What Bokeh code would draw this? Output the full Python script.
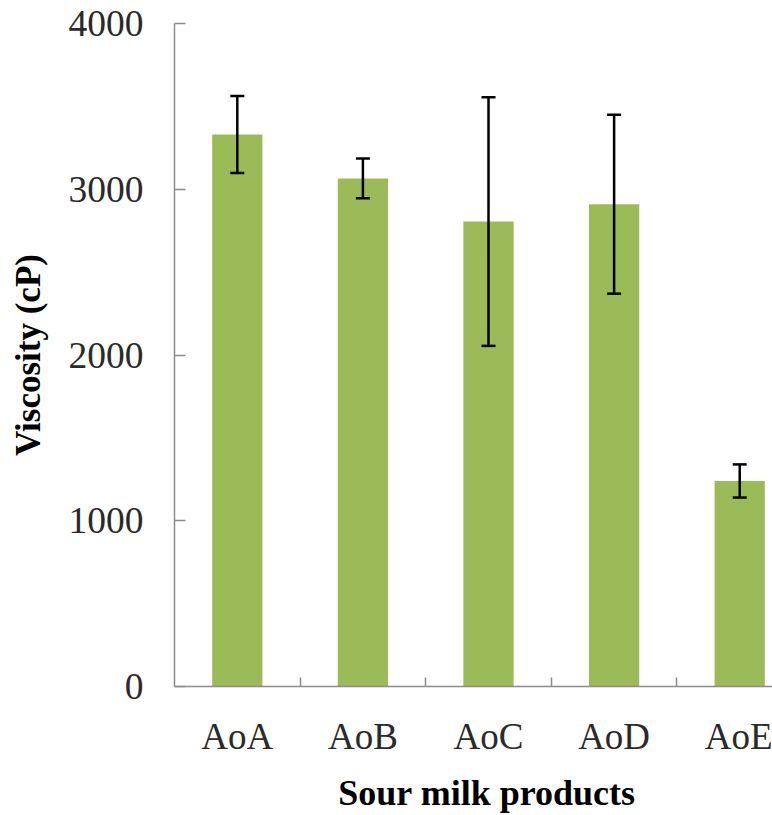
from bokeh.plotting import figure
from bokeh.models import ColumnDataSource, Whisker, TeeHead, FixedTicker, Range1d
from bokeh.embed import file_html
from bokeh.resources import INLINE

categories = ["AoA", "AoB", "AoC", "AoD", "AoE"]
viscosity = [3330, 3065, 2805, 2910, 1240]
sd = [232, 120, 750, 540, 100]
y_ticks = [0, 1000, 2000, 3000, 4000]

xs = list(range(len(categories)))
src = ColumnDataSource(dict(
    x=xs, y=viscosity,
    upper=[v + s for v, s in zip(viscosity, sd)],
    lower=[v - s for v, s in zip(viscosity, sd)],
))

p = figure(width=772, height=815, output_backend="svg", toolbar_location=None,
           x_range=Range1d(-0.5, 4.261), y_range=Range1d(0, 4000),
           min_border_left=174, min_border_right=0, min_border_top=23,
           min_border_bottom=0)
p.outline_line_color = None
p.xgrid.grid_line_color = None
p.ygrid.grid_line_color = None

p.vbar(x="x", top="y", width=0.4, bottom=0, source=src,
       fill_color="#9BBB59", line_color=None)

w = Whisker(base="x", upper="upper", lower="lower", source=src,
            line_color="black", line_width=2.5, level="overlay",
            upper_head=TeeHead(size=14, line_color="black", line_width=2.5),
            lower_head=TeeHead(size=14, line_color="black", line_width=2.5))
p.add_layout(w)

serif = "Liberation Serif"

# y axis
p.yaxis.ticker = FixedTicker(ticks=y_ticks)
p.yaxis.axis_line_color = "#8c8c8c"
p.yaxis.axis_line_width = 1.5
p.yaxis.major_tick_line_color = "#8c8c8c"
p.yaxis.major_tick_line_width = 1.5
p.yaxis.major_tick_in = 11
p.yaxis.major_tick_out = 0
p.yaxis.minor_tick_line_color = None
p.yaxis.major_label_text_font = serif
p.yaxis.major_label_text_font_size = "37.5px"
p.yaxis.major_label_text_color = "#2a2a2a"
p.yaxis.major_label_standoff = 31
p.yaxis.axis_label = "Viscosity (cP)"
p.yaxis.axis_label_text_font = serif
p.yaxis.axis_label_text_font_style = "bold"
p.yaxis.axis_label_text_font_size = "35px"
p.yaxis.axis_label_text_color = "black"
p.yaxis.axis_label_standoff = 18

# x axis
p.xaxis.ticker = FixedTicker(ticks=xs, minor_ticks=[i + 0.5 for i in xs[:-1]])
p.xaxis.major_label_overrides = {i: c for i, c in zip(xs, categories)}
p.xaxis.axis_line_color = "#8c8c8c"
p.xaxis.axis_line_width = 1.5
p.xaxis.major_tick_line_color = None
p.xaxis.minor_tick_line_color = "#8c8c8c"
p.xaxis.minor_tick_line_width = 1.5
p.xaxis.minor_tick_in = 9
p.xaxis.minor_tick_out = 0
p.xaxis.major_tick_in = 0
p.xaxis.major_tick_out = 0
p.xaxis.major_label_text_font = serif
p.xaxis.major_label_text_font_size = "37px"
p.xaxis.major_label_text_color = "#2a2a2a"
p.xaxis.major_label_standoff = 29
p.xaxis.axis_label = "\u00a0\u00a0\u00a0Sour milk products"
p.xaxis.axis_label_text_font = serif
p.xaxis.axis_label_text_font_style = "bold"
p.xaxis.axis_label_text_font_size = "36px"
p.xaxis.axis_label_text_color = "black"
p.xaxis.axis_label_standoff = 13

open("out.html", "w").write(file_html(p, INLINE))
